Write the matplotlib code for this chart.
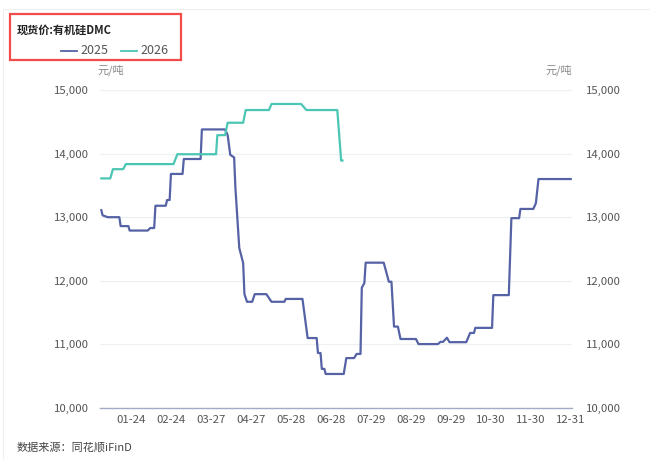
import matplotlib
matplotlib.use("Agg")
import matplotlib.pyplot as plt
from matplotlib.lines import Line2D
from matplotlib.patches import Rectangle
import pandas as pd
import numpy as np

plt.rcParams['font.family'] = ['Noto Sans CJK SC', 'DejaVu Sans']

# ---- data ----
title = "现货价:有机硅DMC"
unit = "元/吨"
source = "数据来源：同花顺iFinD"
series_names = ["2025", "2026"]

dates_2025 = ["01-01", "01-02", "01-06", "01-15", "01-16", "01-22", "01-23", "02-06", "02-08", "02-11",
              "02-12", "02-20", "02-21", "02-23", "02-24", "03-05", "03-06", "03-19", "03-20", "04-07",
              "04-09", "04-11", "04-14", "04-15", "04-18", "04-21", "04-22", "04-24", "04-28", "04-30",
              "05-09", "05-13", "05-23", "05-24", "06-06", "06-10", "06-17", "06-18", "06-20", "06-21",
              "06-23", "06-24", "07-08", "07-10", "07-16", "07-18", "07-21", "07-22", "07-24", "07-25",
              "08-08", "08-12", "08-14", "08-16", "08-19", "08-21", "09-02", "09-04", "09-19", "09-21",
              "09-23", "09-26", "09-28", "10-11", "10-14", "10-17", "10-18", "10-31", "11-01", "11-13",
              "11-15", "11-21", "11-22", "12-02", "12-04", "12-06", "12-31"]
values_2025 = [13110, 13030, 13000, 13000, 12860, 12860, 12790, 12790, 12830, 12830,
               13180, 13180, 13270, 13270, 13680, 13680, 13915, 13915, 14380, 14380,
               14290, 13980, 13940, 13460, 12515, 12280, 11790, 11670, 11670, 11790,
               11790, 11670, 11670, 11715, 11715, 11100, 11100, 10865, 10865, 10615,
               10615, 10535, 10535, 10785, 10785, 10850, 10850, 11890, 11965, 12285,
               12285, 11985, 11985, 11280, 11280, 11085, 11085, 11005, 11005, 11040,
               11040, 11105, 11035, 11035, 11180, 11180, 11260, 11260, 11775, 11775,
               12985, 12985, 13130, 13130, 13220, 13600, 13600]

dates_2026 = ["01-01", "01-08", "01-10", "01-18", "01-20", "02-26", "03-01", "03-31", "04-01", "04-07",
              "04-09", "04-21", "04-23", "05-11", "05-13", "06-05", "06-09", "07-03", "07-06", "07-07"]
values_2026 = [13610, 13610, 13755, 13755, 13835, 13835, 13990, 13990, 14290, 14290,
               14485, 14485, 14685, 14685, 14780, 14780, 14685, 14685, 13890, 13890]

xtick_labels = ["01-24", "02-24", "03-27", "04-27", "05-28", "06-28", "07-29", "08-29",
                "09-29", "10-30", "11-30", "12-31"]
yticks = [10000, 11000, 12000, 13000, 14000, 15000]

colors = ["#5562a6", "#4cc6b4"]


def doy(md_list):
    d = pd.to_datetime(["2025-" + s for s in md_list])
    return np.asarray(d.dayofyear - 1, dtype=float)


W, H = 650, 459
fig = plt.figure(figsize=(W / 100, H / 100), dpi=100)
fig.patch.set_facecolor("white")

def fx(x):
    return x / W

def fy(y):
    return 1 - y / H

left, right, top, bottom = 100, 572, 90, 408
ax = fig.add_axes([fx(left), fy(bottom), fx(right) - fx(left), fy(top) - fy(bottom)])

ax.plot(doy(dates_2025), values_2025, color=colors[0], lw=1.6, solid_joinstyle="round")
ax.plot(doy(dates_2026), values_2026, color=colors[1], lw=1.6, solid_joinstyle="round")

ax.set_xlim(-1, 365)
ax.set_ylim(10000, 15000)
ax.set_yticks(yticks)
ax.set_yticklabels([f"{v:,}" for v in yticks])
ax.set_xticks(doy(xtick_labels))
ax.set_xticklabels(xtick_labels)
ax.tick_params(axis="both", length=0, labelsize=8.2, colors="#555555")
ax.tick_params(axis="y", pad=8)
ax.tick_params(axis="x", pad=5)
ax.grid(axis="y", color="#eef0f6", lw=0.9)
ax.set_axisbelow(True)
for s in ["top", "right", "left"]:
    ax.spines[s].set_visible(False)
ax.spines["bottom"].set_color("#a3aac6")
ax.spines["bottom"].set_linewidth(1.0)

ax2 = ax.twinx()
ax2.set_ylim(10000, 15000)
ax2.set_yticks(yticks)
ax2.set_yticklabels([f"{v:,}" for v in yticks])
ax2.tick_params(axis="y", length=0, labelsize=8.2, colors="#555555", pad=10)
for s in ["top", "right", "left", "bottom"]:
    ax2.spines[s].set_visible(False)

# units
fig.text(fx(111), fy(70), unit, ha="center", va="center", fontsize=8, color="#888888")
fig.text(fx(559), fy(70), unit, ha="center", va="center", fontsize=8, color="#888888")

# title and legend
fig.text(fx(17), fy(30), title, ha="left", va="center", fontsize=8, fontweight="bold", color="#222222")
for i, (name, xs) in enumerate(zip(series_names, [61, 121])):
    fig.add_artist(Line2D([fx(xs), fx(xs + 16)], [fy(51), fy(51)], color=colors[i], lw=1.3))
    fig.text(fx(xs + 19), fy(50.5), name, ha="left", va="center", fontsize=9, color="#555555")

fig.add_artist(Rectangle((fx(10), fy(60)), fx(181) - fx(10), fy(14) - fy(60),
                         fill=False, edgecolor="#f24b4b", lw=1.6, transform=fig.transFigure))

# outer faint frame
fig.add_artist(Rectangle((fx(3), fy(470)), fx(700), fy(9) - fy(470),
                         fill=False, edgecolor="#eeeeee", lw=0.8, transform=fig.transFigure))

fig.text(fx(17), fy(447), source, ha="left", va="center", fontsize=8, color="#444444")

fig.savefig("out.png", dpi=100, facecolor="white")
